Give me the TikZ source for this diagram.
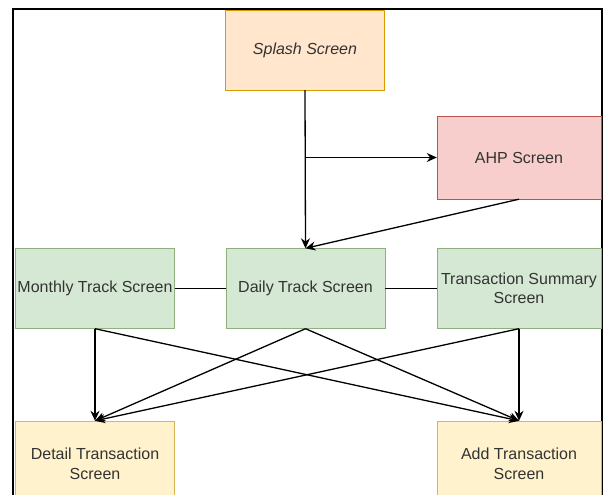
\documentclass[tikz,border=0pt]{standalone}
\usepackage{fontspec}
\setmainfont{Liberation Sans}
\usetikzlibrary{arrows.meta,positioning}
\definecolor{splashfill}{HTML}{FFE6CC}
\definecolor{splashline}{HTML}{D79B00}
\definecolor{ahpfill}{HTML}{F8CECC}
\definecolor{ahpline}{HTML}{B85450}
\definecolor{trackfill}{HTML}{D5E8D4}
\definecolor{trackline}{HTML}{8FAF7F}
\definecolor{transfill}{HTML}{FFF2CC}
\definecolor{transline}{HTML}{D6B656}

\begin{document}
\begin{tikzpicture}[x=1pt,y=-1pt,
		screen/.style={draw,align=center,minimum width=159pt,minimum height=80pt,inner sep=2pt,text=black!80,font=\fontsize{16}{19.5}\selectfont},
		link/.style={line width=1.3pt,-{Stealth[length=10pt,width=9pt]}}]
		\clip (0,0) rectangle (605,495);
		\draw[line width=2.5pt] (13,9) rectangle (602,530);
		\node[screen,fill=splashfill,draw=splashline,font=\fontsize{16}{19.5}\selectfont\itshape] (splash) at (305,50) {Splash Screen};
		\node[screen,fill=ahpfill,draw=ahpline,minimum width=164pt,minimum height=83pt] (ahp) at (519,157.5) {AHP Screen};
		\node[screen,fill=trackfill,draw=trackline] (monthly) at (95,288.5) {Monthly Track Screen};
		\node[screen,fill=trackfill,draw=trackline] (daily) at (305.5,288.5) {Daily Track Screen};
		\node[screen,fill=trackfill,draw=trackline,minimum width=164pt] (tsummary) at (519,288.5) {Transaction Summary\\Screen};
		\node[screen,fill=transfill,draw=transline,minimum height=86pt] (detail) at (95,464) {Detail Transaction\\Screen};
		\node[screen,fill=transfill,draw=transline,minimum width=164pt,minimum height=86pt] (add) at (519,464) {Add Transaction\\Screen};
		\draw[link] (splash.south) -- (daily.north);
		\draw[link] (splash.south |- ahp.west) -- (ahp.west);
		\draw[link] (ahp.south) -- (daily.north);
		\draw[line width=1.3pt] (monthly) -- (daily);
		\draw[line width=1.3pt] (daily) -- (tsummary);
		\draw[link] (monthly.south) -- (detail.north);
		\draw[link] (monthly.south) -- (add.north);
		\draw[link] (daily.south) -- (detail.north);
		\draw[link] (daily.south) -- (add.north);
		\draw[link] (tsummary.south) -- (detail.north);
		\draw[link] (tsummary.south) -- (add.north);
	\end{tikzpicture}
\end{document}
